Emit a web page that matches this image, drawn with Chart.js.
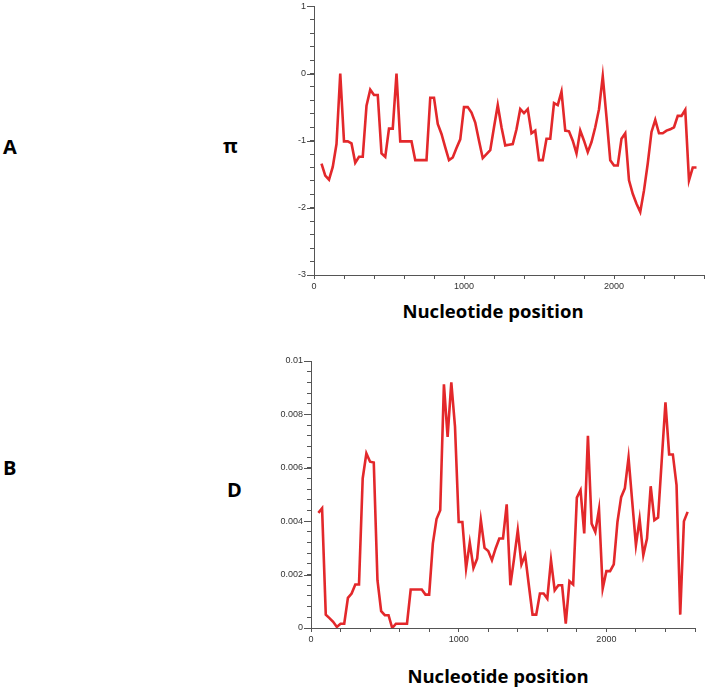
<!DOCTYPE html>
<html>
<head>
<meta charset="utf-8">
<script src="https://cdn.jsdelivr.net/npm/chart.js@4.4.1/dist/chart.umd.min.js"></script>
<style>
  body { margin: 0; background: #fff; width: 709px; height: 691px; position: relative; overflow: hidden; }
  canvas { position: absolute; }
  .lbl { position: absolute; font-family: "Open Sans", Lato, sans-serif; font-weight: bold; color: #000; white-space: nowrap; font-variant-ligatures: none; }
  .xt { font-size: 18.5px; transform: translateX(-50%); }
</style>
</head>
<body>
<div class="lbl" style="left:3px;top:133px;font-size:20px;">A</div>
<div class="lbl" style="left:223px;top:132px;font-size:20px;">π</div>
<div class="lbl" style="left:3px;top:454px;font-size:20px;">B</div>
<div class="lbl" style="left:227px;top:476px;font-size:20px;">D</div>
<div class="lbl xt" style="left:493px;top:298px;">Nucleotide position</div>
<div class="lbl xt" style="left:498px;top:663px;">Nucleotide position</div>

<canvas id="piChart" width="459" height="303" style="left:250px;top:-3px;"></canvas>
<canvas id="dChart" width="459" height="310" style="left:250px;top:340px;"></canvas>

<script>
// window midpoints (nucleotide position)
const positions = [
    50, 75, 100, 125, 150, 175, 200, 225, 250, 275, 300, 325, 350, 375, 400, 425, 450, 475, 500, 525,
    550, 575, 600, 625, 650, 675, 700, 725, 750, 775, 800, 825, 850, 875, 900, 925, 950, 975, 1000, 1025,
    1050, 1075, 1100, 1125, 1150, 1175, 1200, 1225, 1250, 1275, 1300, 1325, 1350, 1375, 1400, 1425, 1450, 1475, 1500, 1525,
    1550, 1575, 1600, 1625, 1650, 1675, 1700, 1725, 1750, 1775, 1800, 1825, 1850, 1875, 1900, 1925, 1950, 1975, 2000, 2025,
    2050, 2075, 2100, 2125, 2150, 2175, 2200, 2225, 2250, 2275, 2300, 2325, 2350, 2375, 2400, 2425, 2450, 2475, 2500, 2525,
    2550
];

// panel A: pi
const piValues = [
    -1.34, -1.52, -1.58, -1.39, -1.05, 0.00, -1.01, -1.01, -1.04, -1.33, -1.24, -1.24, -0.48, -0.24, -0.32, -0.32, -1.19, -1.24, -0.82, -0.82,
    0.00, -1.01, -1.01, -1.01, -1.01, -1.29, -1.29, -1.29, -1.29, -0.36, -0.36, -0.75, -0.90, -1.10, -1.29, -1.25, -1.11, -0.98, -0.50, -0.50,
    -0.58, -0.73, -1.00, -1.26, -1.20, -1.14, -0.80, -0.47, -0.80, -1.07, -1.06, -1.05, -0.83, -0.53, -0.59, -0.53, -0.89, -0.85, -1.29, -1.29,
    -0.97, -0.97, -0.44, -0.47, -0.27, -0.85, -0.86, -1.00, -1.19, -0.85, -1.00, -1.17, -1.02, -0.80, -0.53, -0.04, -0.65, -1.29, -1.37, -1.37,
    -0.97, -0.89, -1.59, -1.79, -1.94, -2.06, -1.74, -1.34, -0.87, -0.69, -0.89, -0.89, -0.85, -0.83, -0.80, -0.63, -0.63, -0.54, -1.59, -1.40,
    -1.40
];

// panel B: D (x 0.001)
const dValues = [
    4.31, 4.48, 0.50, 0.37, 0.23, 0.04, 0.16, 0.16, 1.13, 1.29, 1.63, 1.63, 5.60, 6.54, 6.23, 6.20, 1.79, 0.63, 0.48, 0.48,
    0.00, 0.16, 0.16, 0.16, 0.16, 1.44, 1.44, 1.44, 1.44, 1.25, 1.25, 3.16, 4.08, 4.41, 9.13, 7.16, 9.20, 7.54, 3.97, 3.97,
    2.23, 3.20, 2.25, 2.60, 4.04, 3.00, 2.88, 2.54, 2.98, 3.35, 3.35, 4.63, 1.60, 2.60, 3.66, 2.38, 2.73, 1.60, 0.50, 0.50,
    1.29, 1.29, 1.10, 2.54, 1.41, 1.60, 1.60, 0.16, 1.75, 1.63, 4.88, 5.16, 3.54, 7.20, 3.91, 3.60, 4.45, 1.48, 2.13, 2.13,
    2.38, 3.97, 4.90, 5.23, 6.38, 4.73, 3.10, 4.08, 2.73, 3.35, 5.31, 4.04, 4.14, 6.30, 8.45, 6.50, 6.50, 5.35, 0.50, 4.00,
    4.35
];

const lineColor = "#e3282b";
const axisColor = "#555";
const tickFont = { family: "Liberation Sans, Arial, sans-serif", size: 9 };

function isMultiple(v, step) {
    const r = v / step;
    return Math.abs(r - Math.round(r)) < 1e-6;
}

// longer ticks on the labelled y values
const majorTicks = {
    id: "majorTicks",
    afterDraw(chart) {
        const y = chart.scales.y;
        const c = chart.ctx;
        c.save();
        c.strokeStyle = axisColor;
        c.lineWidth = 1;
        y.ticks.forEach((t, i) => {
            if (!t.label) return;
            const py = Math.round(y.getPixelForTick(i)) + 0.5;
            c.beginPath();
            c.moveTo(y.right - 7, py);
            c.lineTo(y.right, py);
            c.stroke();
        });
        c.restore();
    }
};

function makeChart(id, values, opts) {
    const ctx = document.getElementById(id);
    return new Chart(ctx, {
        type: "line",
        data: {
            datasets: [{
                data: positions.map((p, i) => ({ x: p, y: values[i] })),
                borderColor: lineColor,
                borderWidth: 2.6,
                pointRadius: 0,
                tension: 0,
                fill: false
            }]
        },
        plugins: [majorTicks],
        options: {
            responsive: false,
            animation: false,
            devicePixelRatio: 1,
            layout: { padding: opts.padding },
            plugins: { legend: { display: false }, tooltip: { enabled: false } },
            scales: {
                x: {
                    type: "linear",
                    min: 0,
                    max: 2600,
                    afterFit: s => { s.height = opts.xHeight; },
                    border: { color: axisColor, width: 1 },
                    grid: { drawOnChartArea: false, color: axisColor, tickLength: 4 },
                    ticks: {
                        stepSize: 200,
                        autoSkip: false,
                        maxRotation: 0,
                        padding: 2,
                        color: "#333",
                        font: tickFont,
                        callback: v => (isMultiple(v, 1000) ? v : "")
                    }
                },
                y: {
                    min: opts.yMin,
                    max: opts.yMax,
                    afterFit: s => { s.width = opts.yWidth; },
                    border: { color: axisColor, width: 1 },
                    grid: { drawOnChartArea: false, color: axisColor, tickLength: 4 },
                    ticks: {
                        stepSize: opts.yStep,
                        autoSkip: false,
                        padding: 4,
                        color: "#333",
                        font: tickFont,
                        callback: v => (isMultiple(v, opts.yMajor) ? opts.fmt(v) : "")
                    }
                }
            }
        }
    });
}

makeChart("piChart", piValues, {
    padding: { left: 0, right: 5, top: 0, bottom: 0 },
    xHeight: 25,
    yWidth: 64,
    yMin: -3, yMax: 1, yStep: 0.2, yMajor: 1,
    fmt: v => String(Math.round(v))
});

makeChart("dChart", dValues.map(v => v / 1000), {
    padding: { left: 0, right: 14, top: 21, bottom: 0 },
    xHeight: 22,
    yWidth: 61,
    yMin: 0, yMax: 0.01, yStep: 0.0004, yMajor: 0.002,
    fmt: v => String(parseFloat(v.toFixed(4)))
});
</script>
</body>
</html>
